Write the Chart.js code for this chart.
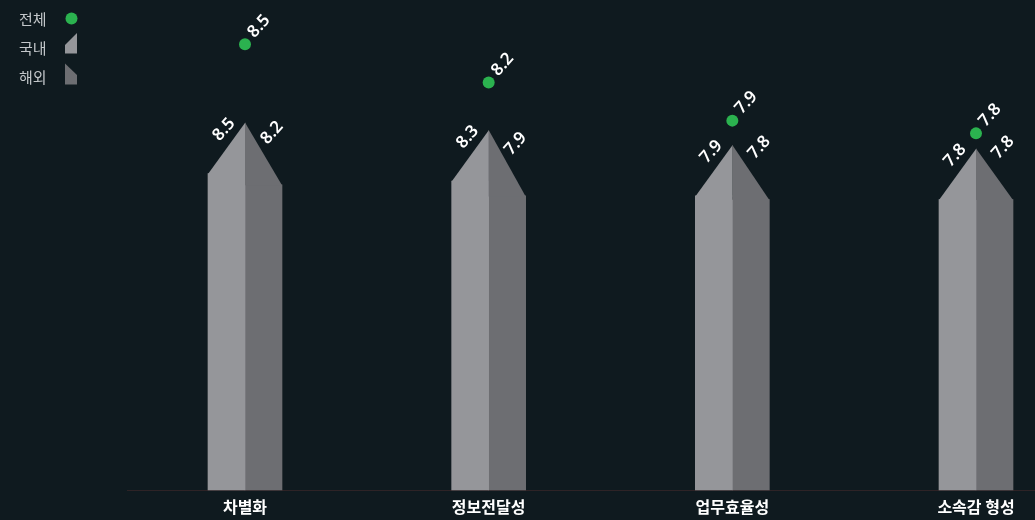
<!DOCTYPE html>
<html lang="ko">
<head>
<meta charset="utf-8">
<title>항목별 평가 점수</title>
<script src="https://cdn.jsdelivr.net/npm/chart.js@4.4.1/dist/chart.umd.min.js"></script>
<style>
  html, body { margin: 0; padding: 0; background: #0f1a1f; }
  #wrap { width: 1035px; height: 520px; position: relative; }
</style>
</head>
<body>
<div id="wrap"><canvas id="chart"></canvas></div>
<script>
// 데이터
const categories = ['차별화', '정보전달성', '업무효율성', '소속감 형성'];
const seriesNames = ['전체', '국내', '해외'];
const totalScores = [8.5, 8.2, 7.9, 7.8];
const domesticScores = [8.5, 8.3, 7.9, 7.8];
const overseasScores = [8.2, 7.9, 7.8, 7.8];

const COLORS = {
  total: '#2bb24f',
  domestic: '#95969a',
  overseas: '#6d6e72',
  text: '#ffffff',
  legendText: '#c3c7ca',
  axis: '#2e2326',
};
const CAP = 51; // 막대 윗면 경사 높이(px)
const LABEL_FONT = '600 17px "Noto Sans", sans-serif';
const ANGLE = -48 * Math.PI / 180;

function rotatedText(ctx, text, x, y) {
  ctx.save();
  ctx.translate(x, y);
  ctx.rotate(ANGLE);
  ctx.fillText(text, 0, 0);
  ctx.restore();
}

// 바닥선: 차트 영역보다 넓게 (왼쪽 범례 옆부터 오른쪽 끝까지)
const baselinePlugin = {
  id: 'baseline',
  beforeDatasetsDraw(chart) {
    const ctx = chart.ctx;
    const y = Math.round(chart.scales.y.getPixelForValue(0)) + 0.5;
    ctx.save();
    ctx.strokeStyle = COLORS.axis;
    ctx.lineWidth = 1;
    ctx.beginPath();
    ctx.moveTo(127, y);
    ctx.lineTo(chart.width, y);
    ctx.stroke();
    ctx.restore();
  },
};

// 막대 위에 뾰족한 캡 + 값 라벨
const capPlugin = {
  id: 'caps',
  afterDatasetsDraw(chart) {
    const ctx = chart.ctx;
    const left = chart.getDatasetMeta(1).data;
    const right = chart.getDatasetMeta(2).data;
    const dots = chart.getDatasetMeta(0).data;
    ctx.save();
    left.forEach((barL, i) => {
      const barR = right[i];
      const l0 = barL.x - barL.width / 2, l1 = barL.x + barL.width / 2;
      const r0 = barR.x - barR.width / 2, r1 = barR.x + barR.width / 2;
      const peakL = barL.y - CAP;
      const peakR = Math.min(barL.y, barR.y) - CAP;

      ctx.fillStyle = COLORS.domestic;
      ctx.beginPath();
      ctx.moveTo(l0, barL.y + 0.5);
      ctx.lineTo(l1 + 0.3, peakL);
      ctx.lineTo(l1 + 0.3, barL.y + 0.5);
      ctx.closePath();
      ctx.fill();

      ctx.fillStyle = COLORS.overseas;
      ctx.beginPath();
      ctx.moveTo(r0, peakR);
      ctx.lineTo(r1, barR.y + 0.5);
      ctx.lineTo(r0, barR.y + 0.5);
      ctx.closePath();
      ctx.fill();

      ctx.fillStyle = COLORS.text;
      ctx.font = LABEL_FONT;
      ctx.textAlign = 'center';
      ctx.textBaseline = 'middle';
      rotatedText(ctx, domesticScores[i].toFixed(1), l1 - 21, peakL + 7);
      rotatedText(ctx, overseasScores[i].toFixed(1), r1 - 10, barR.y - 52);

      const p = dots[i];
      rotatedText(ctx, totalScores[i].toFixed(1), p.x + 14, p.y - 18);
    });
    ctx.restore();
  },
};

// 왼쪽 위 범례 (글자 뒤에 아이콘)
const legendPlugin = {
  id: 'cornerLegend',
  afterDraw(chart) {
    const ctx = chart.ctx;
    ctx.save();
    ctx.font = '15px "Noto Sans CJK KR", sans-serif';
    ctx.fillStyle = COLORS.legendText;
    ctx.textAlign = 'left';
    ctx.textBaseline = 'middle';
    const rows = [19, 48, 77];
    seriesNames.forEach((name, i) => ctx.fillText(name, 19, rows[i]));

    ctx.fillStyle = COLORS.total;
    ctx.beginPath();
    ctx.arc(71.5, 18.5, 6, 0, Math.PI * 2);
    ctx.fill();

    ctx.fillStyle = COLORS.domestic;
    ctx.beginPath();
    ctx.moveTo(65, 45); ctx.lineTo(77, 33); ctx.lineTo(77, 53.5); ctx.lineTo(65, 53.5);
    ctx.closePath();
    ctx.fill();

    ctx.fillStyle = COLORS.overseas;
    ctx.beginPath();
    ctx.moveTo(65, 63.5); ctx.lineTo(77, 75); ctx.lineTo(77, 84.5); ctx.lineTo(65, 84.5);
    ctx.closePath();
    ctx.fill();
    ctx.restore();
  },
};

new Chart(document.getElementById('chart'), {
  data: {
    labels: categories,
    datasets: [
      {
        type: 'line',
        label: seriesNames[0],
        data: totalScores,
        yAxisID: 'yTotal',
        showLine: false,
        pointRadius: 6,
        pointBorderWidth: 0,
        pointBackgroundColor: COLORS.total,
        clip: false,
        order: 0,
      },
      {
        type: 'bar',
        label: seriesNames[1],
        data: domesticScores,
        backgroundColor: COLORS.domestic,
        barThickness: 37,
        clip: false,
        order: 1,
      },
      {
        type: 'bar',
        label: seriesNames[2],
        data: overseasScores,
        backgroundColor: COLORS.overseas,
        barThickness: 37,
        clip: false,
        order: 2,
      },
    ],
  },
  options: {
    responsive: true,
    maintainAspectRatio: false,
    animation: false,
    layout: { padding: { left: 245, right: 59, top: 0, bottom: -4 } },
    plugins: { legend: { display: false }, tooltip: { enabled: false } },
    scales: {
      x: {
        offset: false,
        grid: { display: false, drawTicks: false },
        border: { display: false },
        ticks: {
          color: COLORS.text,
          padding: 8,
          font: { family: '"Noto Sans CJK KR", sans-serif', size: 16, weight: 'bold', lineHeight: 1.125 },
        },
      },
      y: { display: false, min: 0, max: 13 },
      yTotal: { display: false, min: 5, max: 8.8 },
    },
  },
  plugins: [baselinePlugin, capPlugin, legendPlugin],
});
</script>
</body>
</html>
